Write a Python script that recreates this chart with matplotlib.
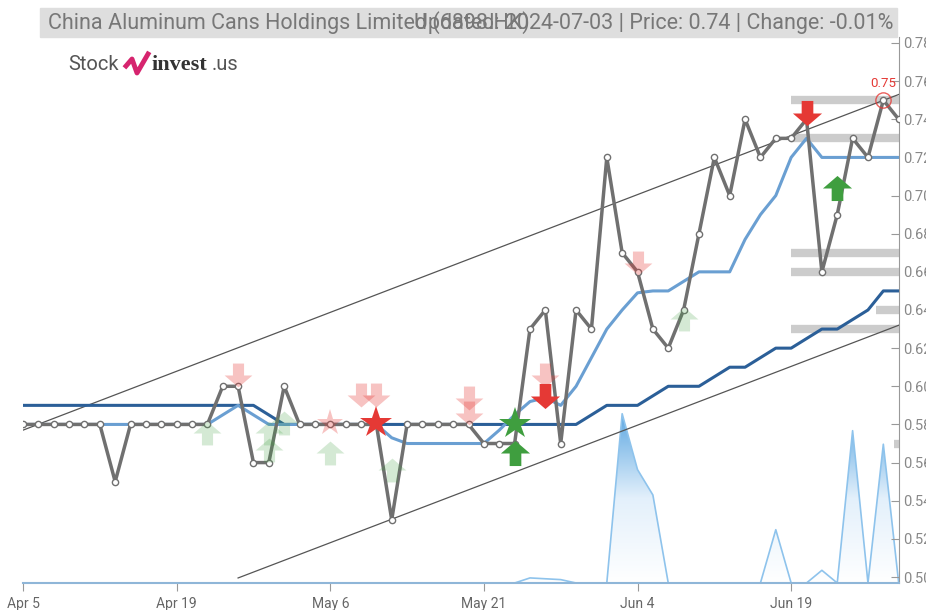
import numpy as np
import matplotlib.pyplot as plt
from matplotlib.path import Path
from matplotlib.patches import Rectangle
from matplotlib.lines import Line2D
from matplotlib.colors import LinearSegmentedColormap

# Data
tick_labels = ["Apr 5", "Apr 19", "May 6", "May 21", "Jun 4", "Jun 19"]
tick_index = [0, 10, 20, 30, 40, 50]

price = [
    0.58, 0.58, 0.58, 0.58, 0.58, 0.58, 0.55, 0.58, 0.58, 0.58,
    0.58, 0.58, 0.58, 0.60, 0.60, 0.56, 0.56, 0.60, 0.58, 0.58,
    0.58, 0.58, 0.58, 0.58, 0.53, 0.58, 0.58, 0.58, 0.58, 0.58,
    0.57, 0.57, 0.57, 0.63, 0.64, 0.57, 0.64, 0.63, 0.72, 0.67,
    0.66, 0.63, 0.62, 0.64, 0.68, 0.72, 0.70, 0.74, 0.72, 0.73,
    0.73, 0.74, 0.66, 0.69, 0.73, 0.72, 0.75, 0.74
]
ma_short = [
    0.58, 0.58, 0.58, 0.58, 0.58, 0.58, 0.58, 0.58, 0.58, 0.58,
    0.58, 0.58, 0.58, 0.585, 0.59, 0.585, 0.58, 0.58, 0.58, 0.58,
    0.58, 0.58, 0.58, 0.58, 0.573, 0.57, 0.57, 0.57, 0.57, 0.57,
    0.57, 0.577, 0.585, 0.592, 0.594, 0.59, 0.60, 0.615, 0.63, 0.64,
    0.649, 0.65, 0.65, 0.655, 0.66, 0.66, 0.66, 0.677, 0.69, 0.70,
    0.72, 0.73, 0.72, 0.72, 0.72, 0.72, 0.72, 0.72
]
ma_long = [
    0.59, 0.59, 0.59, 0.59, 0.59, 0.59, 0.59, 0.59, 0.59, 0.59,
    0.59, 0.59, 0.59, 0.59, 0.59, 0.59, 0.585, 0.58, 0.58, 0.58,
    0.58, 0.58, 0.58, 0.58, 0.58, 0.58, 0.58, 0.58, 0.58, 0.58,
    0.58, 0.58, 0.58, 0.58, 0.58, 0.58, 0.58, 0.585, 0.59, 0.59,
    0.59, 0.595, 0.60, 0.60, 0.60, 0.605, 0.61, 0.61, 0.615, 0.62,
    0.62, 0.625, 0.63, 0.63, 0.635, 0.64, 0.65, 0.65
]
volume = [
    0, 0, 0, 0, 0, 0, 0, 0, 0, 0,
    0, 0, 0, 0, 0, 0, 0, 0, 0, 0,
    0, 0, 0, 0, 0, 0, 0, 0, 0, 0,
    0, 0, 0, 30, 25, 20, 0, 0, 0, 1000,
    670, 520, 0, 0, 0, 0, 0, 0, 0, 315,
    0, 0, 75, 0, 900, 0, 820, 0
]

# trend channel (index, value)
upper_idx = [0, 57]
upper_val = [0.577, 0.753]
lower_idx = [14, 57]
lower_val = [0.4995, 0.632]

# support / resistance levels (value, start index)
levels = [0.75, 0.73, 0.67, 0.66, 0.64, 0.63, 0.57]
level_start = [50, 50, 50, 50, 55.5, 50, 56.7]

# signals (index, value)
buy_faint = [(12, 0.5755), (16, 0.5755), (16, 0.5665), (17, 0.581),
             (20, 0.565), (24, 0.556), (43, 0.6355)]
sell_faint = [(14, 0.6057), (22, 0.5953), (23, 0.5953), (29, 0.594),
              (29, 0.586), (34, 0.6057), (40, 0.6645)]
buy_strong = [(32, 0.565), (53, 0.704)]
sell_strong = [(34, 0.595), (51, 0.7435)]
star_sell = [(23, 0.5806)]
star_buy = [(32, 0.58)]
star_faint = [(20, 0.5806)]

last_high = (56, 0.75)

x = np.arange(len(price))

# arrow markers
up_arrow = Path([(-0.2, -0.43), (0.2, -0.43), (0.2, 0.0), (0.5, 0.0),
                 (0.0, 0.43), (-0.5, 0.0), (-0.2, 0.0), (-0.2, -0.43)],
                closed=True)
down_arrow = Path([(vx, -vy) for vx, vy in up_arrow.vertices], closed=True)

red = "#e53935"
green = "#3f9e3f"
font = ["Roboto", "DejaVu Sans"]

fig = plt.figure(figsize=(9.26, 6.10), dpi=100)
W, H = 926, 610
ax = fig.add_axes([23 / W, 27 / H, 876 / W, 546 / H])
vol_ax = ax.twinx()
ax.set_zorder(vol_ax.get_zorder() + 1)
ax.patch.set_visible(False)

# volume area with gradient
vmax = max(volume) / 0.31
fill = vol_ax.fill_between(x, volume, color="none", lw=0)
grad = np.linspace(0, 1, 256).reshape(-1, 1)
cmap = LinearSegmentedColormap.from_list("vol", ["#ffffff", "#e3f0fb", "#5ea8e2"])
img = vol_ax.imshow(grad, extent=[0, len(x) - 1, 0, vmax * 0.31], origin="lower",
                    aspect="auto", cmap=cmap, zorder=1)
img.set_clip_path(fill.get_paths()[0], transform=vol_ax.transData)
vol_ax.plot(x, volume, color="#8ec3ec", lw=1.2, zorder=2)
vol_ax.set_ylim(0, vmax)
vol_ax.set_yticks([])
for s in vol_ax.spines.values():
    s.set_visible(False)

# levels
for lv, st in zip(levels, level_start):
    ax.plot([st, len(x) - 1], [lv, lv], color="#cccccc", lw=6, solid_capstyle="butt", zorder=2)

# channel
ax.plot(upper_idx, upper_val, color="#555555", lw=0.9, zorder=3)
ax.plot(lower_idx, lower_val, color="#555555", lw=0.9, zorder=3)

# moving averages
ax.plot(x, ma_long, color="#2b5f98", lw=2.2, zorder=4)
ax.plot(x, ma_short, color="#6a9fd2", lw=2.2, zorder=4)

# price
ax.plot(x, price, color="#707070", lw=2.5, marker="o", markersize=4.5,
        markerfacecolor="white", markeredgecolor="#707070", markeredgewidth=1, zorder=5)

# signals
def draw(points, marker, color, alpha, size):
    if points:
        px, py = zip(*points)
        ax.plot(px, py, linestyle="none", marker=marker, color=color, alpha=alpha,
                markersize=size, markeredgewidth=0, zorder=6)

draw(buy_faint, up_arrow, green, 0.22, 20)
draw(sell_faint, down_arrow, red, 0.3, 20)
draw(star_faint, "*", red, 0.3, 20)
draw(buy_strong, up_arrow, green, 1, 21)
draw(sell_strong, down_arrow, red, 1, 21)
draw(star_sell, "*", red, 1, 24)
draw(star_buy, "*", green, 1, 24)

# last high marker
ax.plot([last_high[0]], [last_high[1]], marker="o", markersize=11, markerfacecolor="none",
        markeredgecolor=red, markeredgewidth=1, alpha=0.8, zorder=7)
ax.annotate(f"{last_high[1]:.2f}", last_high, xytext=(0, 7), textcoords="offset points",
            ha="center", va="bottom", color=red, fontsize=9.5, family=font, zorder=7)

# axes styling
ax.set_xlim(0, len(x) - 1 + 0.02)
ax.set_ylim(0.49686, 0.78314)
ax.set_xticks(tick_index)
ax.set_xticklabels(tick_labels, family=font, fontsize=10, color="#666666")
ax.tick_params(axis="x", direction="out", length=6, color="#999999", pad=4)
ax.yaxis.tick_right()
yt = np.round(np.arange(0.50, 0.781, 0.02), 2)
ax.set_yticks(yt)
ax.set_yticklabels([f"{v:.2f}" for v in yt], fontsize=10.5, color="#888888", family=font)
ax.tick_params(axis="y", direction="in", length=6, color="#999999", pad=3)
for side in ["top", "left"]:
    ax.spines[side].set_visible(False)
ax.spines["right"].set_color("#999999")
ax.spines["bottom"].set_color("#8fb6d8")
ax.spines["bottom"].set_linewidth(1.5)

# header
fig.patches.append(Rectangle((40 / W, 1 - 37 / H), 857 / W, 29 / H, transform=fig.transFigure,
                             color="#dedede", zorder=0))
fig.text(48 / W, 1 - 23 / H, "China Aluminum Cans Holdings Limited (6898.HK)", family=font,
         fontsize=15.5, color="#777777", va="center", ha="left")
fig.text(893 / W, 1 - 23 / H, "Updated: 2024-07-03 | Price: 0.74 | Change: -0.01%", family=font,
         fontsize=15.5, color="#777777", va="center", ha="right")

# logo
fig.text(68 / W, 1 - 65 / H, "Stock", family=font, fontsize=14.5, color="#555555", va="center")
fig.add_artist(Line2D([126 / W, 132 / W, 137 / W, 148 / W], [1 - 66 / H, 1 - 59 / H, 1 - 73 / H, 1 - 54 / H],
                      color="#d6246e", lw=3.5, transform=fig.transFigure))
fig.text(152 / W, 1 - 65 / H, "invest", family="Liberation Serif", fontsize=16, fontweight="bold",
         color="#333333", va="center")
fig.text(212 / W, 1 - 65 / H, ".us", family=font, fontsize=14.5, color="#555555", va="center")

plt.savefig("out.png", dpi=100)
